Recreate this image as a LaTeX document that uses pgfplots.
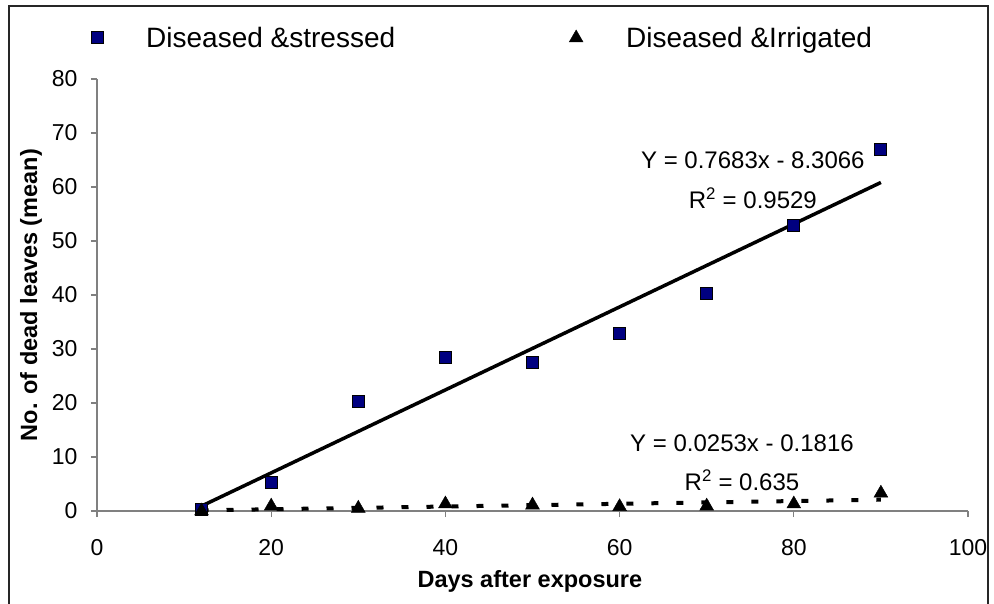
\documentclass[border=0pt]{standalone}
\usepackage{fontspec}
\setmainfont{Liberation Sans}
\usepackage{pgfplots}
\pgfplotsset{compat=1.18}
\definecolor{navy}{HTML}{000080}
\definecolor{axgray}{HTML}{808080}
\begin{document}
\begin{tikzpicture}[x=1pt,y=1pt]
\useasboundingbox (0,0) rectangle (994,603);
\draw[line width=1.5pt, black!85] (9,-10) rectangle (988,597);
\begin{axis}[
  at={(97pt,92pt)}, anchor=south west,
  scale only axis, width=871pt, height=432pt,
  xmin=0, xmax=100, ymin=0, ymax=80,
  axis x line=bottom, axis y line=left,
  axis line style={draw=axgray, line width=1.2pt, -},
  xtick={0,20,...,100}, ytick={0,10,...,80},
  tick align=outside, major tick length=6pt,
  tick style={draw=axgray, line width=1.2pt},
  /pgf/number format/assume math mode=true,
  tick label style={font=\fontsize{23}{23}\selectfont},
  xticklabel style={yshift=-19pt},
  yticklabel style={xshift=-10pt},
  xlabel={Days after exposure},
  ylabel={No. of dead leaves (mean)},
  label style={font=\fontsize{23.5}{23.5}\selectfont\bfseries},
  xlabel style={at={(axis description cs:0.497,-0.162)}, anchor=center},
  ylabel style={at={(axis description cs:-0.0758,0.5)}, anchor=center},
  clip=false,
  legend columns=2,
  legend style={draw=none, fill=none, at={(axis description cs:-0.0103,1.095)}, anchor=west,
    font=\fontsize{28}{28}\selectfont,
    /tikz/every odd column/.append style={column sep=41pt},
    /tikz/every even column/.append style={column sep=172pt}},
  legend cell align=left,
]
\addplot[forget plot, black, line width=3.5pt] coordinates {(12,0.9130) (90,60.8404)};
\addplot[forget plot, black, line width=4pt, dash pattern=on 7pt off 18pt] coordinates {(12,0.1220) (90,2.0954)};
\addplot[only marks, mark=square*, mark size=6pt, mark options={fill=navy, draw=black, line width=1pt}]
  coordinates {(12,0.3) (20,5.2) (30,20.2) (40,28.4) (50,27.5) (60,32.9) (70,40.2) (80,52.8) (90,67.0)};
\addlegendentry{Diseased \&stressed}
\addplot[only marks, mark=triangle*, mark size=8pt, mark options={fill=black, draw=black}]
  coordinates {(12,0.0) (20,0.9) (30,0.5) (40,1.3) (50,1.1) (60,0.8) (70,0.9) (80,1.3) (90,3.3)};
\addlegendentry{Diseased \&Irrigated}
\node[font=\fontsize{24}{24}\selectfont, anchor=center] at (axis cs:75.3,65.0) {Y = 0.7683x - 8.3066};
\node[font=\fontsize{24}{24}\selectfont, anchor=center] at (axis cs:75.3,58.0) {R\textsuperscript{2} = 0.9529};
\node[font=\fontsize{24}{24}\selectfont, anchor=center] at (axis cs:74.05,12.6) {Y = 0.0253x - 0.1816};
\node[font=\fontsize{24}{24}\selectfont, anchor=center] at (axis cs:74.05,5.7) {R\textsuperscript{2} = 0.635};
\end{axis}
\end{tikzpicture}
\end{document}
